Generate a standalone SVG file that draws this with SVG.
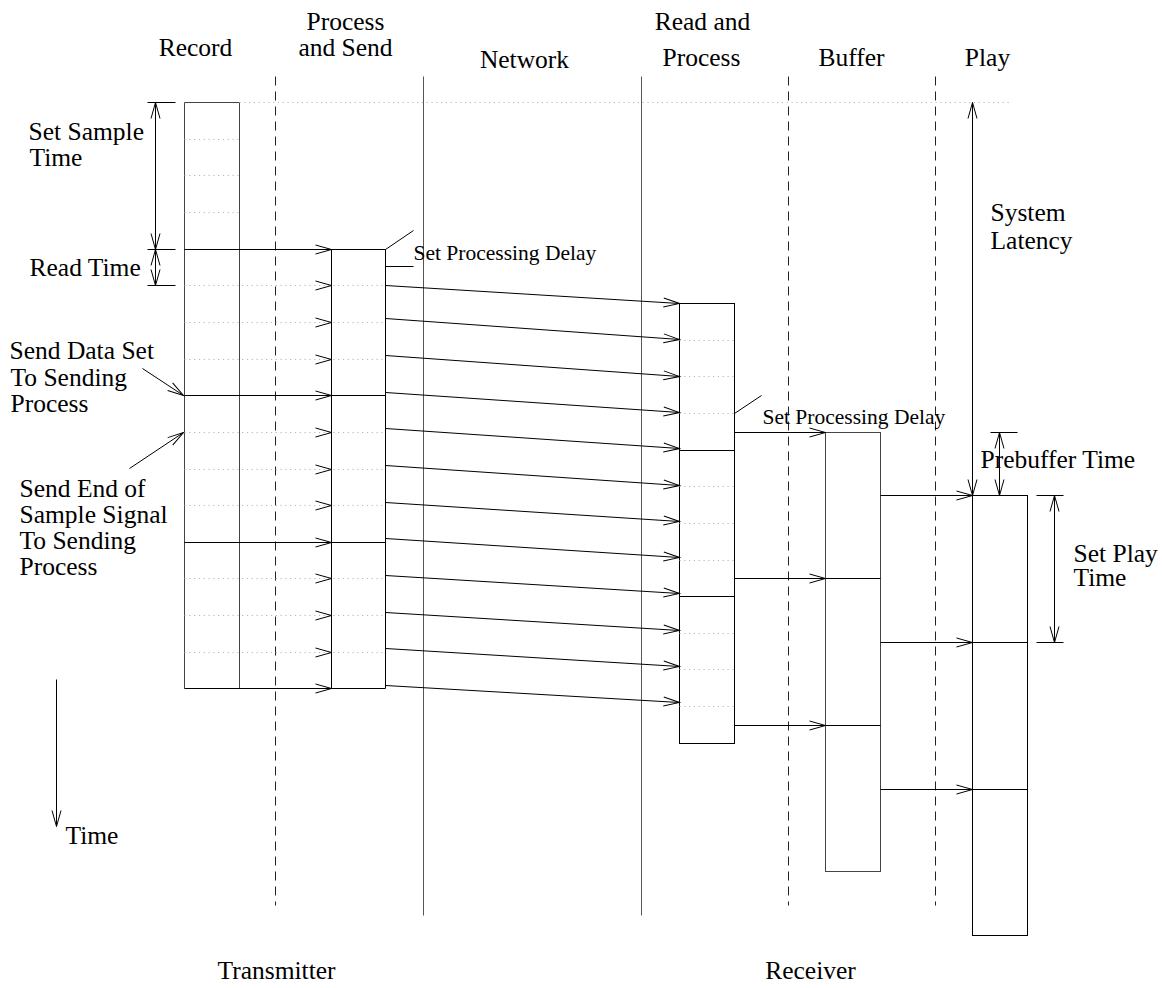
<svg xmlns="http://www.w3.org/2000/svg" xmlns:xlink="http://www.w3.org/1999/xlink" width="1162" height="988" viewBox="0 0 1162 988">
  <style>
    .lbl { font-family: "Liberation Serif", "Times New Roman", serif; font-size: 25.5px; fill: #000; }
    .sm { font-family: "Liberation Serif", "Times New Roman", serif; font-size: 21.5px; fill: #000; }
    .mid { text-anchor: middle; }
    .ln { stroke: #000; stroke-width: 1; fill: none; }
    .box { stroke: #444; stroke-width: 1; fill: none; }
    .sep { stroke: #555; stroke-width: 1; fill: none; }
    .dash { stroke: #222; stroke-width: 1; stroke-dasharray: 9 6; fill: none; }
    .dot { stroke: #b8b8b8; stroke-width: 1; stroke-dasharray: 1.2 3.6; fill: none; }
    .arr { marker-end: url(#head); }
    .dim { marker-start: url(#head); marker-end: url(#head); }
  </style>
  <defs>
    <marker id="head" markerUnits="userSpaceOnUse" markerWidth="20" markerHeight="12" refX="16" refY="5" orient="auto-start-reverse" overflow="visible">
      <path d="M0,0.5 L16,5 L0,9.5" fill="none" stroke="#000" stroke-width="1"/>
    </marker>
    <path id="vhead" d="M-16,-4.5 L0,0 L-16,4.5" fill="none" stroke="#000" stroke-width="1"/>
  </defs>

  <g transform="translate(0.5,0.5)">
    <!-- lane separators -->
    <g id="lanes">
      <line class="dash" x1="275" y1="76" x2="275" y2="905"/>
      <line class="sep" x1="423" y1="76" x2="423" y2="915"/>
      <line class="sep" x1="641" y1="76" x2="641" y2="915"/>
      <line class="dash" x1="788" y1="76" x2="788" y2="905"/>
      <line class="dash" x1="935" y1="76" x2="935" y2="905"/>
    </g>

    <!-- column headings -->
    <g id="headings">
      <text class="lbl mid" x="195" y="55">Record</text>
      <text class="lbl mid" x="345" y="29">Process</text>
      <text class="lbl mid" x="345" y="55">and Send</text>
      <text class="lbl mid" x="524" y="67">Network</text>
      <text class="lbl mid" x="702" y="29">Read and</text>
      <text class="lbl mid" x="701" y="65">Process</text>
      <text class="lbl mid" x="851" y="65">Buffer</text>
      <text class="lbl mid" x="987" y="65">Play</text>
      <text class="lbl mid" x="276" y="978">Transmitter</text>
      <text class="lbl mid" x="810" y="978">Receiver</text>
    </g>

    <!-- Record column -->
    <g id="record">
      <line class="box" x1="184" y1="102" x2="184" y2="688"/>
      <line class="box" x1="239" y1="102" x2="239" y2="688"/>
      <line class="box" x1="184" y1="102" x2="239" y2="102"/>
      <line class="dot" x1="239" y1="102" x2="1010" y2="102"/>
      <line class="dot" x1="184" y1="139" x2="239" y2="139"/>
      <line class="dot" x1="184" y1="175" x2="239" y2="175"/>
      <line class="dot" x1="184" y1="212" x2="239" y2="212"/>
    </g>

    <!-- Process and Send column -->
    <g id="process-send">
      <line class="ln" x1="331" y1="249" x2="331" y2="688"/>
      <line class="ln" x1="385" y1="249" x2="385" y2="688"/>
      <line class="ln" x1="331" y1="249" x2="385" y2="249"/>
      <line class="ln" x1="331" y1="395" x2="385" y2="395"/>
      <line class="ln" x1="331" y1="542" x2="385" y2="542"/>
      <line class="ln" x1="331" y1="688" x2="385" y2="688"/>
      <line class="ln" x1="385" y1="249" x2="413" y2="230"/>
      <line class="ln" x1="385" y1="266" x2="413" y2="266"/>
      <text class="sm" x="413" y="259">Set Processing Delay</text>
    </g>

    <!-- Read and Process column -->
    <g id="read-process">
      <rect class="ln" x="679" y="303" width="55" height="440"/>
      <line class="ln" x1="679" y1="450" x2="734" y2="450"/>
      <line class="ln" x1="679" y1="596" x2="734" y2="596"/>
      <line class="dot" x1="679" y1="340" x2="734" y2="340"/>
      <line class="dot" x1="679" y1="376" x2="734" y2="376"/>
      <line class="dot" x1="679" y1="413" x2="734" y2="413"/>
      <line class="dot" x1="679" y1="486" x2="734" y2="486"/>
      <line class="dot" x1="679" y1="523" x2="734" y2="523"/>
      <line class="dot" x1="679" y1="560" x2="734" y2="560"/>
      <line class="dot" x1="679" y1="633" x2="734" y2="633"/>
      <line class="dot" x1="679" y1="669" x2="734" y2="669"/>
      <line class="dot" x1="679" y1="706" x2="734" y2="706"/>
      <line class="ln" x1="734" y1="413" x2="761" y2="395"/>
      <text class="sm" x="762" y="423">Set Processing Delay</text>
    </g>

    <!-- Buffer column -->
    <g id="buffer">
      <rect class="box" x="825" y="432" width="55" height="439"/>
      <line class="ln" x1="825" y1="578" x2="880" y2="578"/>
      <line class="ln" x1="825" y1="725" x2="880" y2="725"/>
    </g>

    <!-- Play column -->
    <g id="play">
      <rect class="ln" x="972" y="495" width="55" height="440"/>
      <line class="ln" x1="972" y1="642" x2="1027" y2="642"/>
      <line class="ln" x1="972" y1="789" x2="1027" y2="789"/>
    </g>

    <!-- annotations -->
    <g id="sample-time">
      <line class="ln" x1="147" y1="102" x2="175" y2="102"/>
      <line class="ln" x1="147" y1="249" x2="175" y2="249"/>
      <line class="ln dim" x1="155" y1="102" x2="155" y2="249"/>
      <text class="lbl" x="28" y="139">Set Sample</text>
      <text class="lbl" x="29" y="165">Time</text>
    </g>
    <g id="read-time">
      <line class="ln" x1="147" y1="285" x2="175" y2="285"/>
      <line class="ln dim" x1="155" y1="249" x2="155" y2="285"/>
      <text class="lbl" x="29" y="275">Read Time</text>
    </g>
    <g id="send-data">
      <line class="ln arr" x1="142" y1="368" x2="183" y2="395"/>
      <text class="lbl" x="9" y="358">Send Data Set</text>
      <text class="lbl" x="10" y="385">To Sending</text>
      <text class="lbl" x="10" y="411">Process</text>
    </g>
    <g id="send-end">
      <line class="ln arr" x1="129" y1="468" x2="183" y2="432"/>
      <text class="lbl" x="19" y="496">Send End of</text>
      <text class="lbl" x="19" y="522">Sample Signal</text>
      <text class="lbl" x="19" y="548">To Sending</text>
      <text class="lbl" x="19" y="574">Process</text>
    </g>
    <g id="time-axis">
      <line class="ln arr" x1="56" y1="679" x2="56" y2="826"/>
      <text class="lbl" x="65" y="843">Time</text>
    </g>
    <g id="system-latency">
      <line class="ln dim" x1="972" y1="102" x2="972" y2="495"/>
      <text class="lbl" x="990" y="220">System</text>
      <text class="lbl" x="990" y="248">Latency</text>
    </g>
    <g id="prebuffer-time">
      <line class="ln" x1="990" y1="432" x2="1017" y2="432"/>
      <line class="ln dim" x1="999" y1="432" x2="999" y2="495"/>
      <text class="lbl" x="980" y="467">Prebuffer Time</text>
    </g>
    <g id="play-time">
      <line class="ln" x1="1036" y1="495" x2="1063" y2="495"/>
      <line class="ln" x1="1036" y1="642" x2="1063" y2="642"/>
      <line class="ln dim" x1="1054" y1="495" x2="1054" y2="642"/>
      <text class="lbl" x="1073" y="561">Set Play</text>
      <text class="lbl" x="1073" y="585">Time</text>
    </g>

    <!-- connectors -->
    <g id="connectors">
      <!-- record to process and send -->
      <line class="ln" x1="184" y1="249" x2="331" y2="249"/>
      <line class="ln" x1="184" y1="395" x2="331" y2="395"/>
      <line class="ln" x1="184" y1="542" x2="331" y2="542"/>
      <line class="ln" x1="184" y1="688" x2="331" y2="688"/>
      <line class="dot" x1="184" y1="285" x2="385" y2="285"/>
      <line class="dot" x1="184" y1="322" x2="385" y2="322"/>
      <line class="dot" x1="184" y1="359" x2="385" y2="359"/>
      <line class="dot" x1="184" y1="432" x2="385" y2="432"/>
      <line class="dot" x1="184" y1="469" x2="385" y2="469"/>
      <line class="dot" x1="184" y1="505" x2="385" y2="505"/>
      <line class="dot" x1="184" y1="578" x2="385" y2="578"/>
      <line class="dot" x1="184" y1="615" x2="385" y2="615"/>
      <line class="dot" x1="184" y1="652" x2="385" y2="652"/>
      <use xlink:href="#vhead" x="331" y="249"/>
      <use xlink:href="#vhead" x="331" y="285"/>
      <use xlink:href="#vhead" x="331" y="322"/>
      <use xlink:href="#vhead" x="331" y="359"/>
      <use xlink:href="#vhead" x="331" y="395"/>
      <use xlink:href="#vhead" x="331" y="432"/>
      <use xlink:href="#vhead" x="331" y="469"/>
      <use xlink:href="#vhead" x="331" y="505"/>
      <use xlink:href="#vhead" x="331" y="542"/>
      <use xlink:href="#vhead" x="331" y="578"/>
      <use xlink:href="#vhead" x="331" y="615"/>
      <use xlink:href="#vhead" x="331" y="652"/>
      <use xlink:href="#vhead" x="331" y="688"/>

      <!-- packets across the network -->
      <line class="ln arr" x1="385" y1="285" x2="679" y2="303"/>
      <line class="ln arr" x1="385" y1="318" x2="679" y2="339"/>
      <line class="ln arr" x1="385" y1="355" x2="679" y2="376"/>
      <line class="ln arr" x1="385" y1="392" x2="679" y2="412"/>
      <line class="ln arr" x1="385" y1="428" x2="679" y2="448"/>
      <line class="ln arr" x1="385" y1="465" x2="679" y2="485"/>
      <line class="ln arr" x1="385" y1="502" x2="679" y2="521"/>
      <line class="ln arr" x1="385" y1="538" x2="679" y2="557"/>
      <line class="ln arr" x1="385" y1="575" x2="679" y2="593"/>
      <line class="ln arr" x1="385" y1="612" x2="679" y2="630"/>
      <line class="ln arr" x1="385" y1="648" x2="679" y2="666"/>
      <line class="ln arr" x1="385" y1="685" x2="679" y2="702"/>

      <!-- read and process to buffer -->
      <line class="ln arr" x1="734" y1="432" x2="825" y2="432"/>
      <line class="ln arr" x1="734" y1="578" x2="825" y2="578"/>
      <line class="ln arr" x1="734" y1="725" x2="825" y2="725"/>

      <!-- buffer to play -->
      <line class="ln arr" x1="880" y1="495" x2="972" y2="495"/>
      <line class="ln arr" x1="880" y1="642" x2="972" y2="642"/>
      <line class="ln arr" x1="880" y1="789" x2="972" y2="789"/>
    </g>
  </g>
</svg>
